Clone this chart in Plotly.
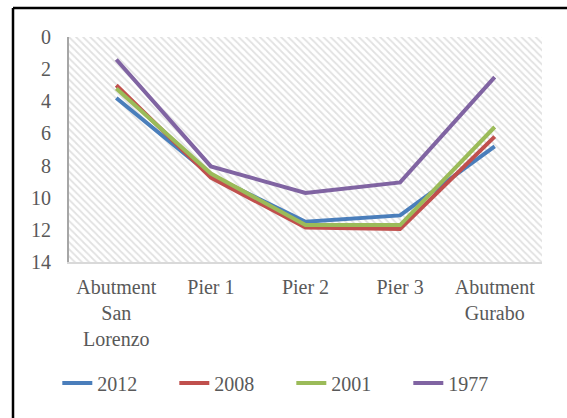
import plotly.graph_objects as go

# Scour depth (ft) at each bridge support, by survey year
locations = ["Abutment<br>San<br>Lorenzo", "Pier 1", "Pier 2", "Pier 3", "Abutment<br>Gurabo"]
depth_2012 = [3.8, 8.6, 11.5, 11.1, 6.8]
depth_2008 = [3.0, 8.75, 11.85, 11.95, 6.2]
depth_2001 = [3.2, 8.5, 11.7, 11.7, 5.6]
depth_1977 = [1.4, 8.05, 9.7, 9.05, 2.5]
y_ticks = [0, 2, 4, 6, 8, 10, 12, 14]

series = [
    ("2012", depth_2012, "#4A7EBB"),
    ("2008", depth_2008, "#C0504D"),
    ("2001", depth_2001, "#9BBB59"),
    ("1977", depth_1977, "#8064A2"),
]

W, H = 567, 418
ML, MR, MT, MB = 69, 25, 37, 156
pw, ph = W - ML - MR, H - MT - MB

FONT = dict(family="Liberation Serif, Times New Roman, serif", size=20, color="#595959")

xpos = list(range(len(locations)))

fig = go.Figure()

# hatched plot-area background
fig.add_trace(go.Scatter(
    x=[-0.5, 4.5, 4.5, -0.5, -0.5], y=[0, 0, 14, 14, 0],
    mode="lines", line=dict(width=0), fill="toself",
    fillcolor="rgba(0,0,0,0)",
    fillpattern=dict(shape="\\", fgcolor="#c4c4c4", bgcolor="white", size=5, solidity=0.35),
    hoverinfo="skip", showlegend=False,
))

for name, vals, color in series:
    fig.add_trace(go.Scatter(
        x=xpos, y=vals, name=name, mode="lines",
        line=dict(color=color, width=4),
    ))

# frame around the figure (top and left edges)
x_left = (13 - ML) / pw
y_top = (H - MB - 8) / ph
fig.add_shape(type="line", xref="paper", yref="paper", x0=x_left, x1=(W - ML + 5) / pw,
              y0=y_top, y1=y_top, line=dict(color="black", width=2.5))
fig.add_shape(type="line", xref="paper", yref="paper", x0=x_left, x1=x_left,
              y0=y_top, y1=-(MB + 5) / ph, line=dict(color="black", width=2.5))

fig.update_layout(
    width=W, height=H,
    margin=dict(l=ML, r=MR, t=MT, b=MB, autoexpand=False),
    paper_bgcolor="white", plot_bgcolor="white",
    font=FONT,
    showlegend=True,
    legend=dict(
        orientation="h", x=0.47, xanchor="center", y=(H - MB - 383) / ph, yanchor="middle",
        font=FONT, itemwidth=30, entrywidth=72, entrywidthmode="pixels",
        bgcolor="rgba(0,0,0,0)",
    ),
)
fig.update_xaxes(
    range=[-0.5, 4.5], tickvals=xpos, ticktext=locations,
    showgrid=False, zeroline=False, showline=True, linecolor="#d9d9d9", linewidth=2,
    ticks="", ticklabelstandoff=6, tickfont=FONT,
)
fig.update_yaxes(
    range=[14, 0], tickvals=y_ticks,
    showgrid=False, zeroline=False, showline=True, linecolor="#a6a6a6", linewidth=2,
    ticks="", ticklabelstandoff=12, tickfont=FONT,
)

fig.write_html("out.html")
